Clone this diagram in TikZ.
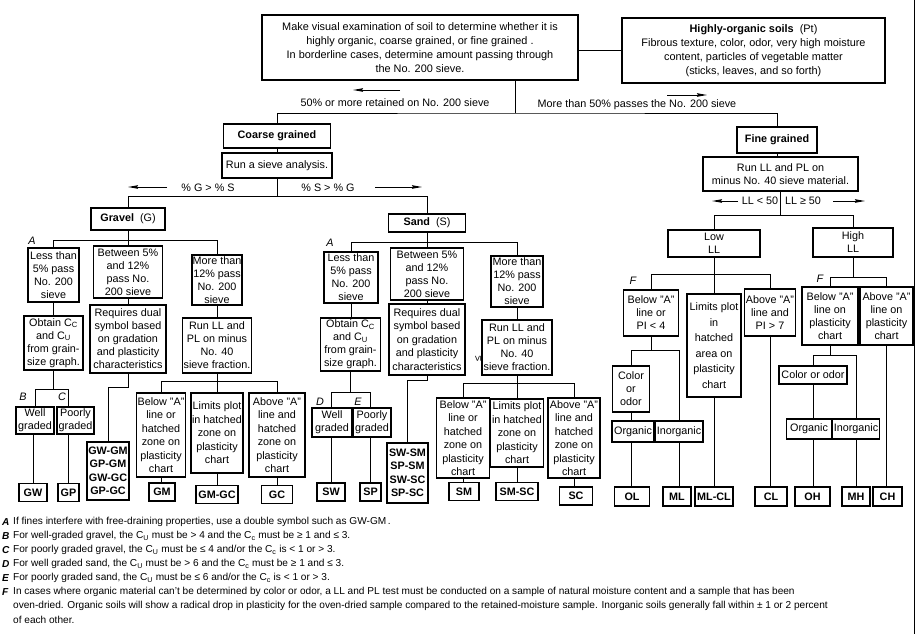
\documentclass[tikz,border=0pt]{standalone}
\usepackage{fontspec}
\setmainfont{Liberation Sans}
\usetikzlibrary{arrows.meta}
\newcommand{\boxfont}{\fontsize{10.8}{13}\selectfont}
\newcommand{\notefont}{\fontsize{10.1}{14}\selectfont}

\begin{document}
\begin{tikzpicture}[x=1pt,y=-1pt,
  box/.style 2 args={draw, line width=1.2pt, inner sep=0.5pt, align=center,
    minimum width=#1pt, minimum height=#2pt, font=\boxfont},
  sym/.style 2 args={box={#1}{#2}, line width=1.6pt, font=\boxfont\bfseries},
  link/.style={line width=1pt},
  flow/.style={line width=1pt, -{Stealth[length=10pt,width=3.5pt,inset=1pt]}},
  lbl/.style={font=\boxfont, inner sep=0pt},
  key/.style={font=\boxfont\itshape, inner sep=0pt},
  fn/.style={font=\notefont, inner sep=0pt, anchor=west},
  fnkey/.style={font=\notefont\bfseries\itshape, inner sep=0pt, anchor=west}]
\useasboundingbox (0,0) rectangle (921,634);
%\draw[step=50,gray,very thin] (0,0) grid (921,634); %background grid

%top boxes
\node[box={316}{65}, font=\fontsize{10.9}{14}\selectfont] (exam) at (420,47.5) {Make visual examination of soil to determine whether it is\\highly organic, coarse grained, or fine grained .\\In borderline cases, determine amount passing through\\the No. 200 sieve.};
\node[box={263}{65}, font=\fontsize{10.9}{14}\selectfont] (peat) at (753.5,50.5) {\textbf{Highly-organic soils}\ \ (Pt)\\Fibrous texture, color, odor, very high moisture\\content, particles of vegetable matter\\(sticks, leaves, and so forth)};
\draw[link] (peat.west -| exam.east) -- (peat.west);

\node[lbl] (retain) at (395,103) {50\% or more retained on No. 200 sieve};
\node[lbl] (passes) at (637,105) {More than 50\% passes the No. 200 sieve};
\coordinate (retaintail) at (400,90);
\coordinate (passtail) at (667,95);
\draw[flow] (retaintail) -- ++(-47,0);
\draw[flow] (passtail) -- ++(40,0);

\node[box={107}{24}, font=\boxfont\bfseries] (coarse) at (277,136) {Coarse grained};
\node[box={110}{25}] (sieve) at (277,165.5) {Run a sieve analysis.};
\node[box={80}{26}, font=\boxfont\bfseries] (fine) at (777,140) {Fine grained};
\node[box={155}{34}] (runll) at (780.5,174) {Run LL and PL on\\minus No. 40 sieve material.};

\coordinate (split) at (515,113);
\draw[link] (exam.south -| split) -- (split);
\draw[link] (coarse.north) |- (split) -| (fine.north);
\draw[link] (coarse.south) -- (sieve.north);
\draw[link] (fine.south) -- (fine.south |- runll.north);

%coarse grained
\node[lbl] (gtxt) at (208,188) {\% G > \% S};
\node[lbl] (stxt) at (328,188) {\% S > \% G};
\coordinate (gtail) at (167,187);
\coordinate (stail) at (375,187);
\draw[flow] (gtail) -- ++(-39,0);
\draw[flow] (stail) -- ++(47,0);

\node[box={74}{22}] (gravel) at (128,219) {\textbf{Gravel}\ \ (G)};
\node[box={77}{18}] (sand) at (427,223) {\textbf{Sand}\ \ (S)};
\draw[link] (sieve.south) -- ++(0,18) coordinate (sbar);
\draw[link] (gravel.north) |- (sbar) -| (sand.north);

%gravel
\node[box={51}{54}] (less5G) at (53.5,275) {Less than\\5\% pass\\No. 200\\sieve};
\node[box={69}{52}] (between5G) at (128,272) {Between 5\%\\and 12\%\\pass No.\\200 sieve};
\node[box={50}{50}] (more12G) at (217,280) {More than\\12\% pass\\No. 200\\sieve};
\node[key] (keyA1) at (32,241) {A};
\draw[link] (gravel.south) -- ++(0,10) coordinate (gbar);
\draw[link] (less5G.north) |- (gbar) -| (more12G.north);
\draw[link] (gbar) -- (between5G.north);

\node[box={59}{54}] (obtainG) at (53.5,343) {Obtain C\textsubscript{C}\\and C\textsubscript{U}\\from grain-\\size graph.};
\node[box={76}{68}] (dualG) at (128,339) {Requires dual\\symbol based\\on gradation\\and plasticity\\characteristics};
\node[box={69}{55}] (runllG) at (217,345.5) {Run LL and\\PL on minus\\No. 40\\sieve fraction.};
\draw[link] (less5G.south) -- (less5G.south |- obtainG.north);
\draw[link] (between5G.south) -- (dualG.north);
\draw[link] (more12G.south) -- (runllG.north);

\node[box={38}{27}] (wellG) at (35,420.5) {Well\\graded};
\node[box={37}{27}] (poorG) at (75.5,420.5) {Poorly\\graded};
\node[key] (keyB) at (23,397) {B};
\node[key] (keyC) at (62,397) {C};
\node[sym={28}{18}] (GW) at (33,492.5) {GW};
\node[sym={21}{18}] (GP) at (68.5,492.5) {GP};
\draw[link] (obtainG.south) -- ++(0,19) coordinate (obarG);
\draw[link] (wellG.north) |- (obarG) -| (poorG.north -| GP.north);
\draw[link] (wellG.south -| GW.north) -- (GW.north);
\draw[link] (poorG.south -| GP.north) -- (GP.north);

\node[sym={42}{58}, font=\fontsize{10.8}{13.5}\selectfont\bfseries] (GWGM) at (108,471) {GW-GM\\GP-GM\\GW-GC\\GP-GC};
\draw[link] (dualG.south) -- ++(0,14) -| (GWGM.north);

\node[box={49}{84}, font=\fontsize{10.8}{13.5}\selectfont] (belowG) at (161,435) {Below "A"\\line or\\hatched\\zone on\\plasticity\\chart};
\node[box={52}{80}, font=\fontsize{10.8}{13.5}\selectfont] (limitsG) at (217,433) {Limits plot\\in hatched\\zone on\\plasticity\\chart};
\node[box={56}{84}, font=\fontsize{10.8}{13.5}\selectfont] (aboveG) at (277,435) {Above "A"\\line and\\hatched\\zone on\\plasticity\\chart};
\draw[link] (runllG.south) -- ++(0,8) coordinate (rbarG);
\draw[link] (belowG.north) |- (rbarG) -| (aboveG.north);
\draw[link] (rbarG) -- (limitsG.north);
\node[sym={26}{18}] (GM) at (162,492) {GM};
\node[sym={42}{18}] (GMGC) at (217,494.5) {GM-GC};
\node[sym={31}{18}] (GC) at (277,494.5) {GC};
\draw[link] (belowG.south) -- (belowG.south |- GM.north);
\draw[link] (limitsG.south) -- (GMGC.north);
\draw[link] (aboveG.south) -- (GC.north);

%sand
\node[box={54}{51}] (less5S) at (351,277.5) {Less than\\5\% pass\\No. 200\\sieve};
\node[box={73}{52}] (between5S) at (427,274) {Between 5\%\\and 12\%\\pass No.\\200 sieve};
\node[box={52}{51}] (more12S) at (517,281.5) {More than\\12\% pass\\No. 200\\sieve};
\node[key] (keyA2) at (330,243) {A};
\draw[link] (sand.south) -- ++(0,10) coordinate (sdbar);
\draw[link] (less5S.north) |- (sdbar) -| (more12S.north);
\draw[link] (sdbar) -- (between5S.north);

\node[box={60}{53}] (obtainS) at (350.5,344.5) {Obtain C\textsubscript{C}\\and C\textsubscript{U}\\from grain-\\size graph.};
\node[box={76}{71}, font=\fontsize{10.8}{13.5}\selectfont] (dualS) at (427,339.5) {Requires dual\\symbol based\\on gradation\\and plasticity\\characteristics};
\node[box={70}{55}] (runllS) at (517,347.5) {Run LL and\\PL on minus\\No. 40\\sieve fraction.};
\node[font=\fontsize{10}{10}\selectfont, rotate=90, inner sep=0pt] (mark) at (478,359) {≤};
\draw[link] (less5S.south) -- (less5S.south |- obtainS.north);
\draw[link] (between5S.south) -- (dualS.north);
\draw[link] (more12S.south) -- (runllS.north);

\node[box={40}{29}] (wellS) at (332,422.5) {Well\\graded};
\node[box={38}{29}] (poorS) at (372,422.5) {Poorly\\graded};
\node[key] (keyD) at (320,402) {D};
\node[key] (keyE) at (358,402) {E};
\node[sym={28}{18}] (SW) at (331,492) {SW};
\node[sym={21}{18}] (SP) at (370.5,492) {SP};
\draw[link] (obtainS.south) -- ++(0,21) coordinate (obarS);
\draw[link] (wellS.north -| SW.north) |- (obarS) -| (poorS.north -| SP.north);
\draw[link] (wellS.south -| SW.north) -- (SW.north);
\draw[link] (poorS.south -| SP.north) -- (SP.north);

\node[sym={41}{60}, font=\fontsize{10.8}{13.5}\selectfont\bfseries] (SWSM) at (407.5,473) {SW-SM\\SP-SM\\SW-SC\\SP-SC};
\draw[link] (dualS.south) -- ++(0,5) -| (SWSM.north);

\node[box={53}{80}, font=\fontsize{10.8}{13.5}\selectfont] (belowS) at (463,438) {Below "A"\\line or\\hatched\\zone on\\plasticity\\chart};
\node[box={53}{68}, font=\fontsize{10.8}{13.5}\selectfont] (limitsS) at (517,433) {Limits plot\\in hatched\\zone on\\plasticity\\chart};
\node[box={52}{80}, font=\fontsize{10.8}{13.5}\selectfont] (aboveS) at (574,438) {Above "A"\\line and\\hatched\\zone on\\plasticity\\chart};
\draw[link] (runllS.south) -- ++(0,8) coordinate (rbarS);
\draw[link] (belowS.north) |- (rbarS) -| (aboveS.north);
\draw[link] (rbarS) -- (limitsS.north);
\node[sym={30}{18}] (SM) at (464,491.5) {SM};
\node[sym={42}{18}] (SMSC) at (517,491.5) {SM-SC};
\node[sym={33}{18}] (SC) at (576,496) {SC};
\draw[link] (belowS.south) -- (belowS.south |- SM.north);
\draw[link] (limitsS.south) -- (SMSC.north);
\draw[link] (aboveS.south) -- (aboveS.south |- SC.north);

%fine grained
\node[lbl] (lowtxt) at (760,201) {LL < 50};
\node[lbl] (hightxt) at (803,201) {LL ≥ 50};
\coordinate (lowtail) at (738,201);
\coordinate (hightail) at (833,201);
\draw[flow] (lowtail) -- ++(-26,0);
\draw[flow] (hightail) -- ++(32,0);

\node[box={92}{27}] (lowll) at (714,243.5) {Low\\LL};
\node[box={80}{29}] (highll) at (853,242.5) {High\\LL};
\draw[link] (runll.south) -- ++(0,24) coordinate (fbar);
\draw[link] (lowll.north) |- (fbar) -| (highll.north);

%low LL
\node[box={55}{46}] (belowL) at (651,313) {Below "A"\\line or\\PI < 4};
\node[box={54}{103}, font=\fontsize{10.8}{15.5}\selectfont] (limitsL) at (714,345.5) {Limits plot\\in\\hatched\\area on\\plasticity\\chart};
\node[box={51}{47}] (aboveL) at (770,312.5) {Above "A"\\line and\\PI > 7};
\node[key] (keyF1) at (633,281) {F};
\draw[link] (lowll.south) -- ++(0,17) coordinate (lbar);
\draw[link] (belowL.north) |- (lbar) -| (aboveL.north);
\draw[link] (lbar) -- (limitsL.north);

\node[box={37}{46}] (colorL) at (631,389) {Color\\or\\odor};
\node[box={42}{21}] (orgL) at (633,431.5) {Organic};
\node[box={48}{21}] (inorgL) at (679,431.5) {Inorganic};
\draw[link] (belowL.south) -- ++(0,14) coordinate (lbar2);
\draw[link] (colorL.north) |- (lbar2) -| (inorgL.north);
\draw[link] (colorL.south) -- (colorL.south |- orgL.north);

\node[sym={35}{19}] (OL) at (632,496.5) {OL};
\node[sym={28}{19}] (ML) at (677,496.5) {ML};
\node[sym={38}{19}] (MLCL) at (714,496.5) {ML-CL};
\node[sym={32}{19}] (CL) at (771,496.5) {CL};
\draw[link] (orgL.south -| colorL.south) -- (colorL.south |- OL.north);
\draw[link] (inorgL.south) -- (inorgL.south |- ML.north);
\draw[link] (limitsL.south) -- (MLCL.north);
\draw[link] (aboveL.south) -- (aboveL.south |- CL.north);

%high LL
\node[box={56}{58}] (belowH) at (830,316) {Below "A"\\line on\\plasticity\\chart};
\node[box={53}{58}] (aboveH) at (886.5,316) {Above "A"\\line on\\plasticity\\chart};
\node[key] (keyF2) at (820,279) {F};
\draw[link] (highll.south) -- ++(0,20) coordinate (hbar);
\draw[link] (belowH.north) |- (hbar) -| (aboveH.north);

\node[box={68}{18}] (colorH) at (813,375) {Color or odor};
\node[box={45}{20}] (orgH) at (809,429) {Organic};
\node[box={47}{20}] (inorgH) at (856,429) {Inorganic};
\draw[link] (belowH.south) -- ++(0,10) coordinate (hbar2);
\draw[link] (colorH.north) |- (hbar2) -| (inorgH.north);
\draw[link] (colorH.south) -- (colorH.south |- orgH.north);

\node[sym={35}{19}] (OH) at (812.5,496.5) {OH};
\node[sym={28}{19}] (MH) at (856,496.5) {MH};
\node[sym={29}{19}] (CH) at (887.5,496.5) {CH};
\draw[link] (orgH.south -| colorH.south) -- (colorH.south |- OH.north);
\draw[link] (inorgH.south) -- (MH.north);
\draw[link] (aboveH.south) -- (aboveH.south |- CH.north);

\draw[link] (914,0) -- (914,634);

%footnotes
\node[fnkey] (fkA) at (2,522) {A};
\node[fnkey] (fkB) at (2,536) {B};
\node[fnkey] (fkC) at (2,550) {C};
\node[fnkey] (fkD) at (2,564) {D};
\node[fnkey] (fkE) at (2,578) {E};
\node[fnkey] (fkF) at (2,592) {F};
\node[fn] (fnA) at (13,522) {If fines interfere with free-draining properties, use a double symbol such as GW-GM\,.};
\node[fn] (fnB) at (13,536) {For well-graded gravel, the C\textsubscript{U} must be > 4 and the C\textsubscript{c} must be ≥ 1 and ≤ 3.};
\node[fn] (fnC) at (13,550) {For poorly graded gravel, the C\textsubscript{U} must be ≤ 4 and/or the C\textsubscript{c} is < 1 or > 3.};
\node[fn] (fnD) at (13,564) {For well graded sand, the C\textsubscript{U} must be > 6 and the C\textsubscript{c} must be ≥ 1 and ≤ 3.};
\node[fn] (fnE) at (13,578) {For poorly graded sand, the C\textsubscript{U} must be ≤ 6 and/or the C\textsubscript{c} is < 1 or > 3.};
\node[fn] (fnF1) at (13,592) {In cases where organic material can't be determined by color or odor, a LL and PL test must be conducted on a sample of natural moisture content and a sample that has been};
\node[fn] (fnF2) at (13,606) {oven-dried. Organic soils will show a radical drop in plasticity for the oven-dried sample compared to the retained-moisture sample. Inorganic soils generally fall within ± 1 or 2 percent};
\node[fn] (fnF3) at (13,620) {of each other.};
\end{tikzpicture}
\end{document}
